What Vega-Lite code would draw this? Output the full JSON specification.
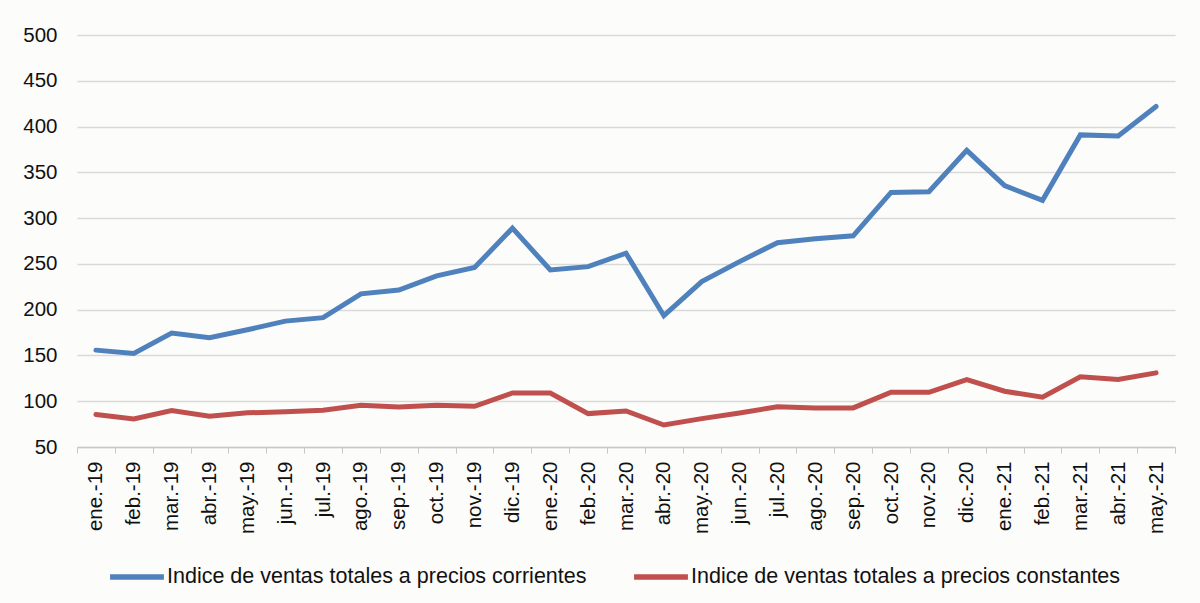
{
  "$schema": "https://vega.github.io/schema/vega-lite/v6.json",
  "width": 1098,
  "height": 412,
  "autosize": {"type": "none"},
  "padding": {"left": 77, "top": 35, "right": 25, "bottom": 156},
  "background": "#fcfcfa",
  "datasets": {
    "d": [
      {"mes": "ene.-19", "serie": "Indice de ventas totales a precios corrientes", "valor": 155.8},
      {"mes": "feb.-19", "serie": "Indice de ventas totales a precios corrientes", "valor": 152.2},
      {"mes": "mar.-19", "serie": "Indice de ventas totales a precios corrientes", "valor": 174.4},
      {"mes": "abr.-19", "serie": "Indice de ventas totales a precios corrientes", "valor": 169.3},
      {"mes": "may.-19", "serie": "Indice de ventas totales a precios corrientes", "valor": 178},
      {"mes": "jun.-19", "serie": "Indice de ventas totales a precios corrientes", "valor": 187.5},
      {"mes": "jul.-19", "serie": "Indice de ventas totales a precios corrientes", "valor": 191.3},
      {"mes": "ago.-19", "serie": "Indice de ventas totales a precios corrientes", "valor": 217.3},
      {"mes": "sep.-19", "serie": "Indice de ventas totales a precios corrientes", "valor": 221.5},
      {"mes": "oct.-19", "serie": "Indice de ventas totales a precios corrientes", "valor": 236.9},
      {"mes": "nov.-19", "serie": "Indice de ventas totales a precios corrientes", "valor": 246},
      {"mes": "dic.-19", "serie": "Indice de ventas totales a precios corrientes", "valor": 289},
      {"mes": "ene.-20", "serie": "Indice de ventas totales a precios corrientes", "valor": 243.4},
      {"mes": "feb.-20", "serie": "Indice de ventas totales a precios corrientes", "valor": 247},
      {"mes": "mar.-20", "serie": "Indice de ventas totales a precios corrientes", "valor": 261.7},
      {"mes": "abr.-20", "serie": "Indice de ventas totales a precios corrientes", "valor": 193.4},
      {"mes": "may.-20", "serie": "Indice de ventas totales a precios corrientes", "valor": 230.7},
      {"mes": "jun.-20", "serie": "Indice de ventas totales a precios corrientes", "valor": 252.5},
      {"mes": "jul.-20", "serie": "Indice de ventas totales a precios corrientes", "valor": 273.2},
      {"mes": "ago.-20", "serie": "Indice de ventas totales a precios corrientes", "valor": 277.4},
      {"mes": "sep.-20", "serie": "Indice de ventas totales a precios corrientes", "valor": 280.7},
      {"mes": "oct.-20", "serie": "Indice de ventas totales a precios corrientes", "valor": 328},
      {"mes": "nov.-20", "serie": "Indice de ventas totales a precios corrientes", "valor": 328.8},
      {"mes": "dic.-20", "serie": "Indice de ventas totales a precios corrientes", "valor": 374},
      {"mes": "ene.-21", "serie": "Indice de ventas totales a precios corrientes", "valor": 335.4},
      {"mes": "feb.-21", "serie": "Indice de ventas totales a precios corrientes", "valor": 319.4},
      {"mes": "mar.-21", "serie": "Indice de ventas totales a precios corrientes", "valor": 390.9},
      {"mes": "abr.-21", "serie": "Indice de ventas totales a precios corrientes", "valor": 389.8},
      {"mes": "may.-21", "serie": "Indice de ventas totales a precios corrientes", "valor": 421.9},
      {"mes": "ene.-19", "serie": "Indice de ventas totales a precios constantes", "valor": 85.5},
      {"mes": "feb.-19", "serie": "Indice de ventas totales a precios constantes", "valor": 80.7},
      {"mes": "mar.-19", "serie": "Indice de ventas totales a precios constantes", "valor": 89.8},
      {"mes": "abr.-19", "serie": "Indice de ventas totales a precios constantes", "valor": 83.6},
      {"mes": "may.-19", "serie": "Indice de ventas totales a precios constantes", "valor": 87.3},
      {"mes": "jun.-19", "serie": "Indice de ventas totales a precios constantes", "valor": 88.4},
      {"mes": "jul.-19", "serie": "Indice de ventas totales a precios constantes", "valor": 90.2},
      {"mes": "ago.-19", "serie": "Indice de ventas totales a precios constantes", "valor": 95.6},
      {"mes": "sep.-19", "serie": "Indice de ventas totales a precios constantes", "valor": 93.8},
      {"mes": "oct.-19", "serie": "Indice de ventas totales a precios constantes", "valor": 95.6},
      {"mes": "nov.-19", "serie": "Indice de ventas totales a precios constantes", "valor": 94.5},
      {"mes": "dic.-19", "serie": "Indice de ventas totales a precios constantes", "valor": 109},
      {"mes": "ene.-20", "serie": "Indice de ventas totales a precios constantes", "valor": 109},
      {"mes": "feb.-20", "serie": "Indice de ventas totales a precios constantes", "valor": 86.5},
      {"mes": "mar.-20", "serie": "Indice de ventas totales a precios constantes", "valor": 89.4},
      {"mes": "abr.-20", "serie": "Indice de ventas totales a precios constantes", "valor": 74},
      {"mes": "may.-20", "serie": "Indice de ventas totales a precios constantes", "valor": 81},
      {"mes": "jun.-20", "serie": "Indice de ventas totales a precios constantes", "valor": 87.2},
      {"mes": "jul.-20", "serie": "Indice de ventas totales a precios constantes", "valor": 94},
      {"mes": "ago.-20", "serie": "Indice de ventas totales a precios constantes", "valor": 92.7},
      {"mes": "sep.-20", "serie": "Indice de ventas totales a precios constantes", "valor": 92.7},
      {"mes": "oct.-20", "serie": "Indice de ventas totales a precios constantes", "valor": 109.8},
      {"mes": "nov.-20", "serie": "Indice de ventas totales a precios constantes", "valor": 109.8},
      {"mes": "dic.-20", "serie": "Indice de ventas totales a precios constantes", "valor": 123.7},
      {"mes": "ene.-21", "serie": "Indice de ventas totales a precios constantes", "valor": 110.9},
      {"mes": "feb.-21", "serie": "Indice de ventas totales a precios constantes", "valor": 104.4},
      {"mes": "mar.-21", "serie": "Indice de ventas totales a precios constantes", "valor": 126.6},
      {"mes": "abr.-21", "serie": "Indice de ventas totales a precios constantes", "valor": 123.7},
      {"mes": "may.-21", "serie": "Indice de ventas totales a precios constantes", "valor": 131}
    ]
  },
  "data": {"name": "d"},
  "mark": {"type": "line", "strokeWidth": 5, "strokeJoin": "miter", "strokeCap": "round"},
  "encoding": {
    "x": {
      "field": "mes",
      "type": "ordinal",
      "sort": null,
      "bandPosition": 0.5,
      "scale": {"type": "band", "paddingInner": 0, "paddingOuter": 0},
      "axis": {
        "title": null,
        "labelAngle": 270,
        "labelAlign": "right",
        "labelBaseline": "middle",
        "labelFont": "Liberation Sans",
        "labelFontSize": 20.5,
        "labelColor": "#111111",
        "labelPadding": 8,
        "tickBand": "extent",
        "tickSize": 6,
        "tickColor": "#c8c8c8",
        "domainColor": "#c8c8c8",
        "domainWidth": 1.5,
        "grid": false
      }
    },
    "y": {
      "field": "valor",
      "type": "quantitative",
      "scale": {"domain": [50, 500], "nice": false, "zero": false},
      "axis": {
        "title": null,
        "values": [50, 100, 150, 200, 250, 300, 350, 400, 450, 500],
        "labelFont": "Liberation Sans",
        "labelFontSize": 20.5,
        "labelColor": "#111111",
        "labelPadding": 20,
        "ticks": false,
        "domain": false,
        "grid": true,
        "gridColor": "#d9d9d9",
        "gridWidth": 1.5
      }
    },
    "color": {
      "field": "serie",
      "type": "nominal",
      "sort": ["Indice de ventas totales a precios corrientes", "Indice de ventas totales a precios constantes"],
      "scale": {
        "domain": ["Indice de ventas totales a precios corrientes", "Indice de ventas totales a precios constantes"],
        "range": ["#4f81bd", "#c0504d"]
      },
      "legend": {
        "title": null,
        "orient": "none",
        "direction": "horizontal",
        "legendX": 30,
        "legendY": 512,
        "symbolType": "stroke",
        "symbolSize": 2900,
        "symbolStrokeWidth": 5.5,
        "labelFont": "Liberation Sans",
        "labelFontSize": 21.5,
        "labelColor": "#111111",
        "labelOffset": 0,
        "columnPadding": 36,
        "labelLimit": 600
      }
    }
  },
  "config": {"view": {"stroke": null}}
}
